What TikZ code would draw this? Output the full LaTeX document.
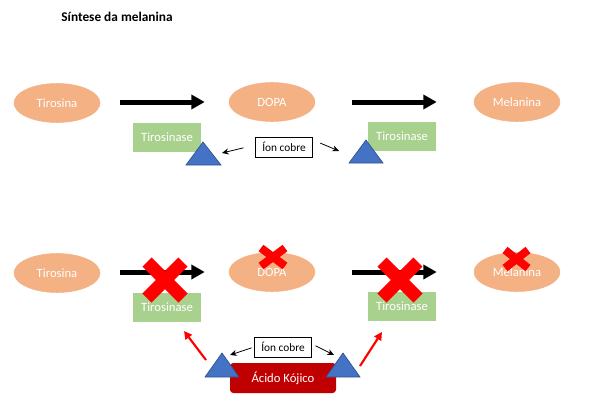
\documentclass[tikz,border=0pt]{standalone}
\usepackage{fontspec}
\setmainfont{Carlito}
\usetikzlibrary{arrows.meta,shapes.geometric}
\definecolor{mol}{HTML}{F4B183}
\definecolor{enz}{HTML}{A9D18E}
\definecolor{tri}{HTML}{4472C4}
\definecolor{trib}{HTML}{2F528F}
\definecolor{kojic}{HTML}{C00000}
\tikzset{
  mol/.style={ellipse, fill=mol, draw=mol, minimum width=64.5pt, minimum height=29.25pt, inner sep=0pt, text=white, font=\fontsize{9.5}{10}\selectfont},
  enzbox/.style={rectangle, fill=enz, minimum width=51pt, minimum height=21.75pt, inner sep=0pt, text=white, font=\fontsize{9.5}{10}\selectfont},
  ionbox/.style={rectangle, draw=black, fill=white, line width=0.6pt, minimum width=42.75pt, minimum height=15pt, inner sep=0pt, font=\fontsize{8.5}{10}\selectfont},
  kojbox/.style={rectangle, rounded corners=2.5pt, fill=kojic, minimum width=79.5pt, minimum height=22.5pt, inner sep=0pt, text=white, font=\fontsize{9.5}{10}\selectfont},
  bigarrow/.style={line width=3.75pt, -{Triangle[length=10pt,width=10.5pt]}},
  thinarrow/.style={line width=0.6pt, -{Stealth[length=5pt,width=4.5pt]}},
  redarrow/.style={red, line width=1.6pt, -{Triangle[length=6pt,width=6pt]}},
  cofactor/.style={fill=tri, draw=trib, line width=0.5pt},
  bigcross/.style={red, line width=9.75pt},
  smallcross/.style={red, line width=6pt}
}
\begin{document}
\begin{tikzpicture}[x=0.75pt,y=-0.75pt]
\useasboundingbox (0,0) rectangle (593,411);
\node[font=\bfseries\fontsize{10}{12}\selectfont, anchor=center] (title) at (117,17) {Síntese da melanina};
% top row
\node[mol] (tirA) at (57,103) {Tirosina};
\node[mol] (dopaA) at (272,102) {DOPA};
\node[mol] (melA) at (517,102) {Melanina};
\draw[bigarrow, shorten <=15pt, shorten >=18pt] (tirA.east|-dopaA.west) -- (dopaA.west);
\draw[bigarrow, shorten <=27.75pt, shorten >=27.75pt] (dopaA.east|-melA.west) -- (melA.west);
\node[enzbox] (enzA1) at (167,137) {Tirosinase};
\node[enzbox] (enzA2) at (402,136) {Tirosinase};
\draw[cofactor] (203,142) -- (221,165) -- (186,165) -- cycle;
\draw[cofactor] (366,140) -- (383,163) -- (349,163) -- cycle;
\coordinate (triA1) at (222,153);
\coordinate (triA2) at (339,151);
\node[ionbox] (ionA) at (284,147) {Íon cobre};
\draw[thinarrow, shorten <=9pt] (ionA.west) ++(0,-2) coordinate (ionAw) (ionAw) -- (triA1);
\draw[thinarrow, shorten <=6pt] (ionA.east) ++(0,-7) coordinate (ionAe) (ionAe) -- (triA2);
% bottom row
\node[mol] (tirB) at (57,273) {Tirosina};
\node[mol] (dopaB) at (272,272) {DOPA};
\node[mol] (melB) at (517,272) {Melanina};
\draw[bigarrow, shorten <=15pt, shorten >=18pt] (tirB.east|-dopaB.west) -- (dopaB.west);
\draw[bigarrow, shorten <=27.75pt, shorten >=27.75pt] (dopaB.east|-melB.west) -- (melB.west);
\node[enzbox] (enzB1) at (167,307) {Tirosinase};
\node[enzbox] (enzB2) at (402,306) {Tirosinase};
\node[kojbox] (koj) at (283,378) {Ácido Kójico};
\draw[cofactor] (222,353) -- (239,377) -- (205,377) -- cycle;
\draw[cofactor] (343,353) -- (360,377) -- (326,377) -- cycle;
\coordinate (triB1) at (230,355);
\coordinate (triB2) at (334,355);
\node[ionbox] (ionB) at (283,347) {Íon cobre};
\draw[thinarrow, shorten <=2pt] (ionB.west) -- (triB1);
\draw[thinarrow, shorten <=3pt] (ionB.east) ++(0,-3) coordinate (ionBe) (ionBe) -- (triB2);
\coordinate (rA) at (206,360);
\coordinate (rB) at (360,366);
\coordinate (rAt) at (184,331);
\coordinate (rBt) at (382,332);
\draw[redarrow] (rA) -- (rAt);
\draw[redarrow] (rB) -- (rBt);
% crosses
\draw[bigcross] (147,262) -- (183,298) (147,298) -- (183,262);
\draw[bigcross] (382,262) -- (418,298) (382,298) -- (418,262);
\draw[smallcross] (261,248) -- (285,266) (261,266) -- (285,248);
\draw[smallcross] (505,250) -- (528,268) (505,268) -- (528,250);
\end{tikzpicture}
\end{document}
